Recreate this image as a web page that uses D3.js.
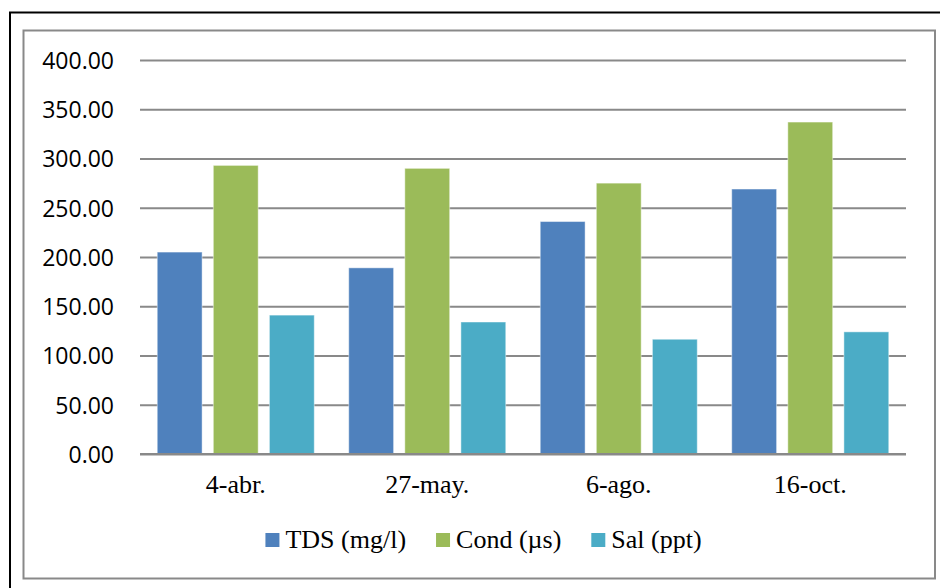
<!DOCTYPE html>
<html><head><meta charset="utf-8">
<script src="https://cdn.jsdelivr.net/npm/d3@7"></script>
<style>html,body{margin:0;padding:0;background:#fff;}svg{display:block;}</style>
</head><body>
<svg id="c" width="940" height="588"></svg>
<script>
const categories = ["4-abr.", "27-may.", "6-ago.", "16-oct."];
const seriesNames = ["TDS (mg/l)", "Cond (\u00b5s)", "Sal (ppt)"];
const tdsValues  = [205, 189, 236, 269];
const condValues = [293, 290, 275, 337];
const salValues  = [141, 134, 116.5, 124];
const yTicks = [0, 50, 100, 150, 200, 250, 300, 350, 400];
const seriesColors = ["#4F81BD", "#9BBB59", "#4BACC6"];

const seriesValues = [tdsValues, condValues, salValues];
const svg = d3.select("#c");

// outer black frame
svg.append("rect").attr("x", 10).attr("y", 12.5).attr("width", 1000).attr("height", 1000)
  .attr("fill", "none").attr("stroke", "#000").attr("stroke-width", 2);
// inner chart border
svg.append("rect").attr("x", 23.5).attr("y", 30.5).attr("width", 911.5).attr("height", 548)
  .attr("fill", "#fff").attr("stroke", "#898989").attr("stroke-width", 2);

const y = d3.scaleLinear().domain([0, 400]).range([454, 60]);
const x0 = d3.scaleBand().domain(categories).range([140, 906]).paddingInner(0.18).paddingOuter(0.09);
const x1 = d3.scaleBand().domain(seriesNames).range([0, x0.bandwidth()]).paddingInner(0.2);

// gridlines
const yAxis = d3.axisLeft(y).tickValues(yTicks).tickSize(-(906 - 140)).tickFormat(d3.format(".2f")).tickPadding(26);
const gA = svg.append("g").attr("transform", "translate(140,0)").call(yAxis);
gA.select(".domain").remove();
gA.selectAll(".tick line").attr("stroke", "#898989").attr("stroke-width", 2);
gA.selectAll(".tick text").attr("font-family", "'Open Sans', sans-serif").attr("font-size", 23)
  .attr("fill", "#000").attr("dy", "0.36em");

// bars
const groups = svg.append("g").selectAll("g").data(categories).join("g")
  .attr("transform", d => `translate(${x0(d)},0)`);
groups.selectAll("rect").data((c, i) => seriesNames.map((s, j) => ({s, j, v: seriesValues[j][i]})))
  .join("rect")
  .attr("x", d => x1(d.s)).attr("width", x1.bandwidth())
  .attr("y", d => y(d.v)).attr("height", d => y(0) - y(d.v))
  .attr("fill", d => seriesColors[d.j])
  .attr("stroke", "rgba(255,255,255,0.45)").attr("stroke-width", 1);

// baseline
svg.append("line").attr("x1", 140).attr("x2", 906).attr("y1", y(0)).attr("y2", y(0))
  .attr("stroke", "#898989").attr("stroke-width", 2);

// category labels
svg.append("g").selectAll("text").data(categories).join("text")
  .attr("x", d => x0(d) + x0.bandwidth() / 2).attr("y", 493)
  .attr("text-anchor", "middle")
  .attr("font-family", "'Liberation Serif', 'Times New Roman', serif").attr("font-size", 26)
  .attr("fill", "#000").text(d => d);

// legend
const leg = svg.append("g");
const fontLeg = "'Liberation Serif', 'Times New Roman', serif";
const items = leg.selectAll("g").data(seriesNames).join("g");
items.append("rect").attr("width", 14).attr("height", 14).attr("y", 533)
  .attr("fill", (d, i) => seriesColors[i]);
items.append("text").attr("x", 20).attr("y", 548)
  .attr("font-family", fontLeg).attr("font-size", 26).attr("fill", "#000").text(d => d);
let xpos = 0; const pos = [];
items.each(function () {
  pos.push(xpos);
  const w = d3.select(this).select("text").node().getComputedTextLength();
  xpos += 20 + w + 30;
});
const total = xpos - 30;
const start = 483.5 - total / 2;
items.attr("transform", (d, i) => `translate(${start + pos[i]},0)`);
</script>
</body></html>
